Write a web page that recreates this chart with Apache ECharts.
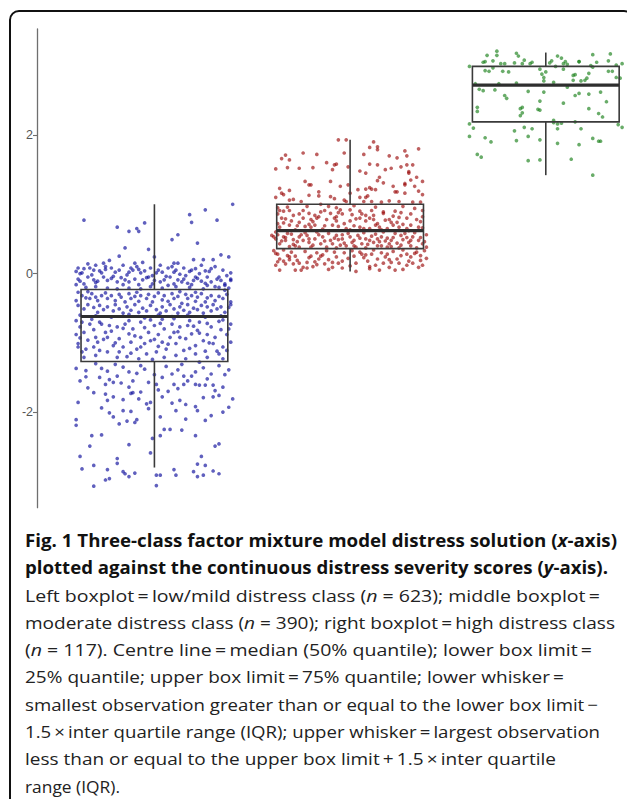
<!DOCTYPE html>
<html>
<head>
<meta charset="utf-8">
<script src="https://cdn.jsdelivr.net/npm/echarts@6/dist/echarts.min.js"></script>
<style>
html,body{margin:0;padding:0;background:#fff;width:627px;height:799px;overflow:hidden;position:relative;}
#frame{position:absolute;left:9px;top:10px;width:625px;height:900px;border:2px solid #111;border-radius:10px;box-sizing:border-box;}
#chart{position:absolute;left:0;top:0;width:627px;height:799px;}
#caption{position:absolute;left:25px;top:527px;font-family:"Open Sans",Lato,sans-serif;font-size:17px;line-height:27.3px;color:#222;white-space:nowrap;}
#caption .ln{display:block;height:27.3px;}
#caption .ln span{display:inline-block;transform-origin:0 50%;}
#caption .b{font-weight:bold;color:#111;}
</style>
</head>
<body>
<div id="frame"></div>
<div id="chart"></div>
<div id="caption">
<div class="ln b"><span>Fig. 1 Three-class factor mixture model distress solution (<i>x</i>-axis)</span></div>
<div class="ln b"><span>plotted against the continuous distress severity scores (<i>y</i>-axis).</span></div>
<div class="ln"><span>Left boxplot&#8201;=&#8201;low/mild distress class (<i>n</i> = 623); middle boxplot&#8201;=</span></div>
<div class="ln"><span>moderate distress class (<i>n</i> = 390); right boxplot&#8201;=&#8201;high distress class</span></div>
<div class="ln"><span>(<i>n</i> = 117). Centre line&#8201;=&#8201;median (50% quantile); lower box limit&#8201;=</span></div>
<div class="ln"><span>25% quantile; upper box limit&#8201;=&#8201;75% quantile; lower whisker&#8201;=</span></div>
<div class="ln"><span>smallest observation greater than or equal to the lower box limit&#8201;&minus;</span></div>
<div class="ln"><span>1.5&#8201;&times;&#8201;inter quartile range (IQR); upper whisker&#8201;=&#8201;largest observation</span></div>
<div class="ln"><span>less than or equal to the upper box limit&#8201;+&#8201;1.5&#8201;&times;&#8201;inter quartile</span></div>
<div class="ln"><span>range (IQR).</span></div>
</div>
<script>
// Category centres on the x scale
const classPositions = [1, 2, 3];
const classNames = ['low/mild distress', 'moderate distress', 'high distress'];
// Box statistics: [position, lower whisker, Q1, median, Q3, upper whisker]
const lowBox = [1, -2.80, -1.27, -0.62, -0.23, 1.00];
const moderateBox = [2, 0.03, 0.36, 0.62, 1.00, 1.93];
const highBox = [3, 1.42, 2.19, 2.72, 2.99, 3.19];
const yTickValues = [-2, 0, 2];

// Jittered observations: [class position + jitter, distress score]
const lowPoints = [
[1.40,1.00],[0.64,0.77],[0.81,0.67],[0.87,0.61],[0.91,0.65],[0.92,0.61],[0.95,0.73],[1.18,0.85],[1.19,0.74],[1.26,0.92],[1.32,0.77],[1.09,0.49],[1.12,0.56],[1.22,0.44],[0.85,0.37],[0.97,0.35],[1.00,0.24],
[0.82,0.25],[0.90,0.15],[0.94,0.16],[0.77,0.19],[0.74,0.15],[0.70,0.12],[0.66,0.14],[0.61,0.08],[0.60,0.03],[1.10,0.15],[1.12,0.15],[1.20,0.20],[1.25,0.20],[1.30,0.20],[1.34,0.27],[1.38,0.24],[1.19,0.05],[1.21,0.07],[1.29,0.07],[1.39,0.01],
[0.64,0.07],[0.67,0.08],[0.69,0.05],[0.72,0.04],[0.75,0.10],[0.78,0.08],[0.80,0.02],[0.82,0.05],[0.84,0.12],[0.87,0.02],[0.88,0.08],[0.91,0.10],[0.93,0.01],[0.95,0.04],[0.98,0.08],[0.99,-0.03],[1.02,0.05],[1.04,0.02],[1.07,0.08],[1.09,0.10],[1.10,0.02],[1.13,-0.01],[1.15,0.08],[1.16,-0.03],[1.23,0.00],[1.26,0.04],[1.27,-0.05],[1.32,-0.08],[1.34,-0.10],[1.37,-0.03],[1.39,-0.08],
[0.61,-0.08],[0.62,0.00],[0.64,-0.15],[0.66,-0.05],[0.69,-0.09],[0.71,-0.11],[0.74,-0.05],[0.76,-0.10],[0.79,-0.04],[0.81,-0.12],[0.83,-0.06],[0.85,-0.09],[0.87,-0.12],[0.90,-0.08],[0.92,-0.16],[0.94,-0.09],[0.97,-0.05],[1.00,-0.10],[1.03,-0.12],[1.05,-0.09],[1.08,-0.05],[1.10,-0.15],[1.12,-0.09],[1.15,-0.08],[1.17,-0.14],[1.20,-0.10],[1.21,-0.05],[1.24,-0.11],[1.27,-0.17],[1.29,-0.12],[1.31,-0.19],[1.33,-0.05],[1.36,-0.15],[1.39,-0.10],
[0.60,-0.16],[0.65,-0.20],[0.70,-0.19],[0.76,-0.21],[0.81,-0.22],[0.87,-0.21],[0.93,-0.22],[0.98,-0.19],[1.04,-0.21],[1.11,-0.19],[1.18,-0.20],[1.25,-0.22],[1.33,-0.20],[1.38,-0.21],
[0.63,0.01],[0.68,-0.02],[0.73,0.01],[0.78,-0.07],[0.86,-0.02],[0.89,0.05],[0.96,-0.06],[1.01,0.01],[1.06,-0.04],[1.11,0.05],[1.14,-0.12],[1.18,0.03],[1.22,-0.07],[1.28,0.03],[1.31,0.10],[1.35,0.05],[1.36,-0.17],[0.62,-0.11],[0.70,-0.13],[0.84,-0.16],[0.99,-0.15],[1.07,-0.17],[1.19,-0.16],[1.26,-0.14],[0.75,0.06],[0.92,0.06],[1.03,0.12],[1.24,0.12],
[0.61,-0.27],[0.63,-0.32],[0.65,-0.35],[0.67,-0.36],[0.68,-0.29],[0.70,-0.34],[0.71,-0.39],[0.73,-0.32],[0.75,-0.28],[0.76,-0.36],[0.78,-0.32],[0.80,-0.39],[0.82,-0.30],[0.83,-0.34],[0.85,-0.41],[0.87,-0.29],[0.88,-0.36],[0.90,-0.33],[0.92,-0.40],[0.93,-0.32],[0.96,-0.36],[0.97,-0.30],[0.99,-0.41],[1.00,-0.33],[1.02,-0.28],[1.04,-0.38],[1.05,-0.32],[1.07,-0.40],[1.09,-0.29],[1.10,-0.36],[1.12,-0.33],[1.14,-0.43],[1.16,-0.30],[1.17,-0.36],[1.19,-0.32],[1.21,-0.40],[1.22,-0.34],[1.24,-0.29],[1.26,-0.41],[1.27,-0.35],[1.29,-0.32],[1.31,-0.39],[1.33,-0.33],[1.35,-0.36],[1.37,-0.30],[1.39,-0.41],
[0.61,-0.46],[0.64,-0.51],[0.66,-0.45],[0.69,-0.49],[0.71,-0.56],[0.72,-0.46],[0.74,-0.52],[0.76,-0.48],[0.79,-0.54],[0.80,-0.45],[0.82,-0.51],[0.84,-0.57],[0.86,-0.48],[0.88,-0.53],[0.90,-0.45],[0.92,-0.56],[0.94,-0.50],[0.96,-0.54],[0.98,-0.46],[1.01,-0.52],[1.03,-0.57],[1.04,-0.48],[1.06,-0.54],[1.08,-0.45],[1.10,-0.51],[1.12,-0.57],[1.13,-0.48],[1.15,-0.53],[1.17,-0.45],[1.18,-0.56],[1.20,-0.50],[1.22,-0.52],[1.24,-0.46],[1.25,-0.57],[1.27,-0.48],[1.29,-0.54],[1.30,-0.45],[1.32,-0.51],[1.34,-0.48],[1.36,-0.56],[1.38,-0.49],[1.39,-0.45],[0.60,-0.39],[1.36,-0.24],
[0.62,-0.60],[0.70,-0.61],[0.78,-0.63],[0.87,-0.59],[0.95,-0.64],[1.02,-0.60],[1.09,-0.62],[1.17,-0.60],[1.26,-0.63],[1.34,-0.61],[0.66,-0.26],[0.91,-0.27],[1.13,-0.26],[1.21,-0.27],
[0.60,-0.68],[0.62,-0.77],[0.64,-0.85],[0.60,-0.88],[0.61,-1.01],[0.65,-1.09],[0.63,-1.13],[0.67,-0.73],[0.69,-0.81],[0.70,-0.92],[0.71,-0.99],[0.66,-0.96],[0.73,-0.73],[0.75,-0.85],[0.76,-0.92],[0.78,-0.83],[0.80,-1.00],[0.81,-0.77],[0.82,-0.94],[0.84,-1.06],[0.85,-0.73],[0.87,-0.87],[0.88,-0.99],[0.89,-0.80],[0.91,-1.09],[0.93,-0.92],[0.93,-0.70],[0.95,-1.01],[0.97,-0.85],[0.98,-0.97],[1.00,-0.75],[1.01,-1.13],[1.02,-0.88],[1.04,-0.99],[1.05,-0.80],[1.06,-1.09],[1.08,-0.92],[1.09,-0.73],[1.10,-0.85],[1.11,-1.01],[1.13,-0.77],[1.15,-1.11],[1.16,-0.94],[1.17,-0.75],[1.19,-0.87],[1.21,-1.04],[1.22,-0.82],[1.23,-0.70],[1.25,-0.97],[1.26,-1.12],[1.27,-0.88],[1.29,-0.77],[1.30,-1.01],[1.31,-0.92],[1.33,-1.16],[1.34,-0.81],[1.35,-1.06],[1.37,-0.88],[1.39,-0.73],[1.39,-0.99],
[0.64,-1.21],[0.70,-1.18],[0.76,-1.13],[0.81,-1.21],[0.86,-1.20],[0.92,-1.23],[0.96,-1.16],[0.99,-1.24],[1.05,-1.21],[1.11,-1.18],[1.16,-1.23],[1.21,-1.16],[1.27,-1.21],[1.32,-1.12],[1.35,-1.23],[0.61,-1.06],[0.72,-1.11],[0.77,-0.75],[0.87,-0.68],[0.98,-0.67],[1.10,-0.65],[1.18,-0.68],[1.27,-0.72],[1.35,-0.67],[0.63,-0.70],[1.03,-0.72],[1.13,-0.92],[0.93,-1.06],[0.69,-1.06],[0.82,-1.13],[1.37,-1.11],[1.23,-1.28],
[0.62,-0.93],[0.68,-0.66],[0.74,-0.95],[0.79,-1.04],[0.84,-0.79],[0.90,-0.90],[0.95,-0.78],[1.00,-0.95],[1.04,-0.66],[1.07,-1.02],[1.12,-0.84],[1.18,-1.08],[1.23,-0.86],[1.28,-1.00],[1.33,-0.69],[1.38,-0.80],[0.72,-0.70],[0.88,-1.15],[1.02,-1.05],[1.20,-0.76],
[0.60,-1.37],[0.65,-1.40],[0.65,-1.49],[0.73,-1.37],[0.76,-1.41],[0.84,-1.35],[0.87,-1.42],[0.91,-1.44],[0.93,-1.33],[1.04,-1.50],[1.09,-1.45],[1.12,-1.39],[1.15,-1.48],[1.19,-1.48],[1.21,-1.42],[1.25,-1.36],[1.29,-1.45],[1.33,-1.33],[1.38,-1.39],
[0.77,-1.53],[0.75,-1.60],[0.79,-1.57],[0.81,-1.48],[0.83,-1.58],[0.87,-1.64],[0.89,-1.72],[0.93,-1.71],[0.97,-1.57],[1.01,-1.60],[1.10,-1.60],[1.12,-1.66],[1.15,-1.60],[1.21,-1.60],[1.23,-1.61],[1.26,-1.61],[1.30,-1.61],[1.35,-1.64],
[0.69,-1.72],[0.75,-1.74],[0.76,-1.83],[0.79,-1.78],[0.84,-1.82],[0.88,-1.73],[0.92,-1.81],[0.96,-1.88],[0.98,-1.86],[1.04,-1.78],[1.07,-1.70],[1.09,-1.87],[1.13,-1.83],[1.16,-1.89],[1.21,-1.92],[1.25,-1.79],[1.30,-1.78],[1.33,-1.76],[1.40,-1.81],
[0.61,-1.86],[0.73,-1.94],[0.77,-2.01],[0.79,-2.07],[0.84,-1.98],[0.86,-2.13],[0.88,-1.99],[0.91,-2.11],[1.03,-2.07],[1.11,-1.98],[1.16,-2.10],[1.22,-1.98],[1.26,-2.12],[1.29,-2.05],[1.35,-2.00],[1.38,-1.93],[0.60,-2.11],[0.60,-2.19],[0.82,-2.17],[0.90,-2.15],[0.97,-1.95],
[0.68,-2.34],[0.73,-2.33],[0.87,-2.47],[0.99,-2.38],[1.03,-2.34],[1.05,-2.25],[1.08,-2.25],[1.14,-2.26],[1.21,-2.34],[0.67,-2.49],[0.81,-2.67],[0.81,-2.74],[0.62,-2.64],[0.63,-2.82],[0.69,-2.77],[0.76,-2.83],[0.77,-2.96],[0.75,-2.98],[0.84,-2.86],[0.85,-2.89],[0.87,-2.93],[0.90,-2.88],[1.01,-2.91],[1.03,-2.91],[0.98,-2.59],[1.01,-3.06],[0.69,-3.07],[1.10,-2.83],[1.11,-2.91],[1.20,-2.86],[1.22,-2.75],[1.24,-2.64],[1.22,-2.93],[1.25,-2.91],[1.26,-2.77],[1.30,-2.85],[1.31,-2.49],[1.33,-2.46],[1.33,-2.89],
[0.70,-1.30],[0.80,-1.31],[0.95,-1.38],[1.00,-1.46],[1.06,-1.34],[1.14,-1.31],[1.27,-1.52],[1.36,-1.46],[0.62,-1.55],[0.72,-1.50],[0.89,-1.55],[1.17,-1.55],[1.31,-1.69],[0.66,-1.65],[1.02,-1.68]
];

const moderatePoints = [
[1.94,1.93],[1.98,1.93],[2.12,1.90],[2.10,1.82],[2.14,1.83],[2.14,1.79],[1.97,1.74],[1.76,1.74],[1.83,1.72],[1.67,1.71],[1.65,1.66],[1.69,1.64],[1.62,1.51],[1.68,1.53],[1.74,1.52],[1.81,1.53],[1.88,1.60],[1.91,1.50],[1.92,1.57],[1.93,1.58],[1.99,1.54],[2.05,1.48],[2.08,1.45],[2.07,1.72],[2.10,1.58],[2.14,1.57],[2.18,1.50],[2.21,1.52],[2.20,1.70],[2.24,1.67],[2.28,1.77],[2.29,1.70],[2.32,1.57],[2.29,1.57],[2.35,1.80],[2.30,1.47],[2.30,1.45],[2.26,1.54],[2.34,1.39],[2.37,1.33],[2.31,1.35],[2.28,1.30],
[1.77,1.33],[1.79,1.28],[1.80,1.28],[1.90,1.33],[1.84,1.18],[1.95,1.26],[1.99,1.28],[2.00,1.16],[2.04,1.21],[2.08,1.22],[2.10,1.24],[2.11,1.22],[2.13,1.21],[2.15,1.39],[2.14,1.34],[2.17,1.31],[2.22,1.26],[2.23,1.18],[2.24,1.18],[2.28,1.28],[2.28,1.16],[2.33,1.26],[2.35,1.19],[2.37,1.14],[2.36,1.03],[1.64,1.23],[1.65,1.16],[1.66,1.14],[1.69,1.20],[1.62,1.10],[1.69,1.06],[1.71,1.07],[1.79,1.13],[1.84,1.12],[1.90,1.11],[1.92,1.08],[1.97,1.06],[1.98,1.04],[2.05,1.10],[2.07,1.04],[2.08,1.10],[2.09,1.12],[2.11,1.04],[2.16,1.03],[2.20,1.05],[2.25,1.04],[2.32,1.03],[1.75,1.04],[1.85,1.00],
[1.63,0.95],[1.64,0.91],[1.63,0.86],[1.66,0.90],[1.69,0.91],[1.71,0.84],[1.74,0.86],[1.76,0.91],[1.76,0.80],[1.79,0.87],[1.80,0.78],[1.82,0.84],[1.83,0.80],[1.84,0.82],[1.85,0.89],[1.88,0.78],[1.90,0.87],[1.92,0.80],[1.93,0.82],[1.93,0.95],[1.95,0.92],[1.96,0.86],[1.93,0.76],[2.00,0.92],[2.01,0.85],[2.00,0.76],[2.05,0.90],[2.05,0.80],[2.08,0.76],[2.08,0.84],[2.10,0.80],[2.11,0.91],[2.12,0.78],[2.14,0.72],[2.17,0.89],[2.17,0.87],[2.18,0.77],[2.20,0.78],[2.22,0.83],[2.23,0.90],[2.25,0.81],[2.27,0.71],[2.29,0.80],[2.31,0.86],[2.34,0.78],[2.37,0.91],[2.36,0.75],[2.37,0.82],
[1.63,0.72],[1.64,0.67],[1.66,0.73],[1.69,0.70],[1.73,0.69],[1.74,0.74],[1.77,0.68],[1.79,0.71],[1.80,0.67],[1.82,0.70],[1.87,0.69],[1.91,0.70],[1.94,0.68],[1.98,0.65],[2.02,0.69],[2.05,0.67],[2.07,0.65],[2.10,0.65],[2.13,0.70],[2.15,0.67],[2.19,0.65],[2.22,0.70],[2.25,0.67],[2.29,0.65],[2.31,0.70],[2.35,0.67],[2.37,0.66],[1.65,0.80],[1.70,0.76],[1.87,0.91],[2.03,0.79],[2.24,0.74],
[1.68,0.96],[1.78,0.97],[1.89,0.97],[2.02,0.98],[2.13,0.96],[2.27,0.97],[2.33,0.94],[1.72,0.63],[1.86,0.64],[2.00,0.63],[2.16,0.63],[2.30,0.62],[1.81,0.75],[1.97,0.72],[2.21,0.74],[2.06,0.86],[1.94,0.88],[2.26,0.88],[1.67,0.79],[2.12,0.84],
[1.61,0.53],[1.62,0.50],[1.60,0.55],[1.63,0.56],[1.66,0.53],[1.67,0.52],[1.70,0.57],[1.71,0.49],[1.74,0.53],[1.76,0.48],[1.78,0.55],[1.79,0.45],[1.82,0.50],[1.84,0.56],[1.85,0.43],[1.86,0.53],[1.90,0.48],[1.91,0.43],[1.93,0.55],[1.96,0.50],[1.97,0.44],[2.00,0.53],[2.02,0.48],[2.04,0.55],[2.06,0.43],[2.08,0.50],[2.11,0.54],[2.12,0.45],[2.14,0.50],[2.16,0.53],[2.18,0.47],[2.20,0.43],[2.21,0.48],[2.22,0.52],[2.24,0.44],[2.26,0.55],[2.27,0.49],[2.30,0.45],[2.32,0.53],[2.35,0.48],[2.37,0.43],[2.39,0.56],
[1.64,0.43],[1.72,0.40],[1.74,0.38],[1.80,0.38],[1.88,0.38],[1.93,0.37],[1.98,0.40],[2.03,0.38],[2.08,0.37],[2.14,0.40],[2.19,0.38],[2.25,0.37],[2.31,0.40],[2.34,0.37],[2.39,0.38],[1.67,0.48],[1.69,0.39],[1.94,0.49],[2.16,0.40],
[1.62,0.60],[1.68,0.58],[1.73,0.46],[1.77,0.59],[1.81,0.41],[1.83,0.60],[1.87,0.47],[1.89,0.58],[1.92,0.51],[1.95,0.41],[1.99,0.58],[2.01,0.45],[2.05,0.51],[2.07,0.59],[2.09,0.42],[2.13,0.57],[2.15,0.46],[2.17,0.60],[2.19,0.51],[2.23,0.58],[2.26,0.41],[2.28,0.58],[2.31,0.48],[2.33,0.59],[2.36,0.52],[2.38,0.46],[1.65,0.47],[1.71,0.42],[1.79,0.50],[1.96,0.56],[2.10,0.48],[2.21,0.39],[2.29,0.52],[1.75,0.56],[2.02,0.40],
[1.62,0.29],[1.63,0.28],[1.64,0.21],[1.66,0.18],[1.67,0.14],[1.62,0.12],[1.64,0.05],[1.69,0.24],[1.72,0.25],[1.73,0.19],[1.75,0.05],[1.76,0.09],[1.79,0.23],[1.80,0.25],[1.82,0.17],[1.83,0.13],[1.84,0.21],[1.85,0.25],[1.87,0.14],[1.89,0.20],[1.91,0.16],[1.93,0.24],[1.94,0.15],[1.96,0.18],[2.02,0.25],[2.03,0.15],[2.06,0.28],[2.07,0.23],[2.09,0.18],[2.10,0.10],[2.11,0.28],[2.14,0.21],[2.15,0.05],[2.17,0.15],[2.18,0.24],[2.19,0.28],[2.20,0.09],[2.23,0.05],[2.24,0.21],[2.25,0.15],[2.26,0.26],[2.29,0.12],[2.31,0.24],[2.32,0.15],[2.33,0.29],[2.35,0.09],[2.36,0.19],[2.39,0.22],[2.29,0.28],[2.03,0.03],[2.10,0.07],[1.69,0.20],[1.74,0.15],[1.81,0.10],[1.91,0.09],[1.96,0.08],[2.21,0.16],[2.36,0.26],[1.71,0.14],[1.78,0.16],
[1.61,0.33],[1.66,0.34],[1.70,0.31],[1.77,0.32],[1.83,0.30],[1.88,0.33],[1.92,0.31],[1.97,0.30],[2.01,0.33],[2.05,0.31],[2.12,0.34],[2.16,0.30],[2.22,0.32],[2.27,0.34],[2.34,0.31],[2.38,0.33],[1.68,0.26],[1.86,0.27],[1.99,0.22],[2.08,0.27],[2.20,0.20],[2.30,0.18],[1.63,0.17],[1.78,0.08],[2.00,0.11],[2.13,0.12],[2.27,0.06],[2.37,0.12],[1.72,0.05],[1.89,0.06]
];

const highPoints = [
[2.75,3.21],[2.75,3.15],[2.70,3.15],[2.69,3.06],[2.68,3.05],[2.86,3.14],[2.89,3.08],[2.88,3.03],[2.92,3.03],[2.93,3.05],[2.77,3.03],[2.79,3.03],[2.84,3.04],[2.61,2.99],[2.73,2.97],[2.71,2.92],[2.69,2.93],[2.78,2.92],[2.81,2.91],[2.97,2.95],[2.98,2.88],[3.00,2.91],[3.02,3.04],[3.03,3.07],[3.06,3.14],[3.08,3.11],[3.10,3.06],[3.09,3.03],[3.11,3.02],[3.05,2.99],[3.17,3.06],[3.17,3.06],[3.24,3.16],[3.33,3.17],[3.32,3.07],[3.36,3.01],[3.39,3.03],[3.23,3.00],[3.24,2.98],[3.22,2.89],[3.32,2.92],[3.34,2.92],[3.36,2.83],[3.38,2.82],[3.09,2.95],[3.14,2.86],[3.15,2.87],[3.14,2.79],[3.18,2.78],[3.20,2.79],[3.21,2.82],[3.04,2.76],[2.99,2.78],
[2.64,2.74],[2.76,2.74],[2.85,2.75],[3.11,2.69],[2.66,2.66],[2.68,2.64],[2.74,2.65],[2.91,2.63],[2.99,2.62],[2.79,2.57],[2.80,2.53],[3.15,2.57],[3.17,2.60],[3.22,2.59],[3.28,2.62],[3.31,2.48],[3.09,2.46],[2.97,2.49],[2.65,2.40],[2.65,2.34],[2.88,2.40],[2.87,2.38],[2.88,2.32],[2.87,2.28],[2.96,2.37],[2.97,2.36],[3.22,2.38],[3.27,2.31],[3.29,2.26],[3.04,2.21],[3.04,2.18],[3.06,2.16],[3.08,2.17],[3.15,2.19],
[2.61,2.16],[2.63,2.10],[2.61,1.98],[2.69,1.96],[2.72,1.90],[2.84,2.06],[2.89,2.11],[2.93,2.09],[2.91,1.98],[2.85,1.92],[2.97,1.93],[3.06,2.09],[3.18,2.09],[3.06,1.88],[3.17,1.86],[3.24,1.95],[3.27,1.91],[3.28,1.91],[3.37,2.15],[3.39,2.11],[2.65,1.72],[2.67,1.68],[2.91,1.63],[2.97,1.64],[3.13,1.65],[3.24,1.42],
[2.85,3.18],[2.73,3.07],[3.26,3.05],[2.99,2.83]
];

// Printed widths (px) of the caption lines on the reference page, used to fit each line
const captionLineWidths = [592, 583, 575, 590, 567, 539, 573, 575, 531, 95];
(function fitCaption() {
  const lines = document.querySelectorAll('#caption .ln span');
  lines.forEach((s, i) => {
    const w = s.getBoundingClientRect().width;
    s.style.transform = 'scaleX(' + (captionLineWidths[i] / w) + ')';
  });
})();

const chart = echarts.init(document.getElementById('chart'), null, {renderer: 'svg'});

function renderBox(params, api) {
  const x = api.value(0);
  const lo = api.coord([x, api.value(1)]);
  const q1 = api.coord([x, api.value(2)]);
  const med = api.coord([x, api.value(3)]);
  const q3 = api.coord([x, api.value(4)]);
  const hi = api.coord([x, api.value(5)]);
  const half = api.size([0.75, 0])[0] / 2;
  const cx = lo[0];
  const stroke = '#3a3a3a';
  return {
    type: 'group',
    children: [
      {type: 'line', shape: {x1: cx, y1: hi[1], x2: cx, y2: q3[1]}, style: {stroke: stroke, lineWidth: 1.6}},
      {type: 'line', shape: {x1: cx, y1: q1[1], x2: cx, y2: lo[1]}, style: {stroke: stroke, lineWidth: 1.6}},
      {type: 'rect', shape: {x: cx - half, y: q3[1], width: half * 2, height: q1[1] - q3[1]}, style: {fill: 'none', stroke: stroke, lineWidth: 1.6}},
      {type: 'line', shape: {x1: cx - half, y1: med[1], x2: cx + half, y2: med[1]}, style: {stroke: '#2e2e2e', lineWidth: 3.2}}
    ]
  };
}

const scatterStyle = (color) => ({
  type: 'scatter',
  symbol: 'circle',
  symbolSize: 3.7,
  itemStyle: {color: color},
  emphasis: {disabled: true},
  silent: true,
  z: 2
});

chart.setOption({
  animation: false,
  grid: {left: 37, right: 0, top: 29, bottom: 291.3, containLabel: false},
  xAxis: {
    type: 'value', min: 0.4, max: 3.415,
    show: false
  },
  yAxis: {
    type: 'value', min: -3.38, max: 3.53,
    axisLine: {show: true, onZero: false, lineStyle: {color: '#6f6f6f', width: 1.3}},
    axisTick: {show: true, length: 4, customValues: yTickValues, lineStyle: {color: '#6f6f6f', width: 1.1}},
    axisLabel: {show: true, customValues: yTickValues, margin: 4, color: '#555', fontSize: 12.5, fontFamily: '"Liberation Sans", Arial, sans-serif'},
    splitLine: {show: false}
  },
  series: [
    Object.assign(scatterStyle('rgba(0,0,150,0.78)'), {name: classNames[0], data: lowPoints}),
    Object.assign(scatterStyle('rgba(150,0,0,0.78)'), {name: classNames[1], data: moderatePoints}),
    Object.assign(scatterStyle('rgba(20,125,20,0.8)'), {name: classNames[2], data: highPoints}),
    {
      type: 'custom',
      renderItem: renderBox,
      data: [lowBox, moderateBox, highBox],
      encode: {x: 0, y: [1, 2, 3, 4, 5]},
      silent: true,
      z: 5
    }
  ]
});
</script>
</body>
</html>
